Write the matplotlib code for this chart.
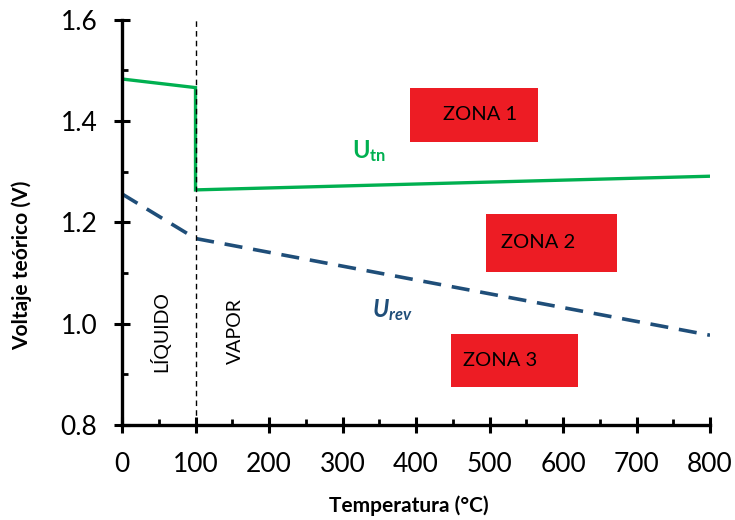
import matplotlib.pyplot as plt
from matplotlib.ticker import MultipleLocator, FormatStrFormatter
from matplotlib.patches import Rectangle

plt.rcParams['font.family'] = ['Lato', 'DejaVu Sans']
plt.rcParams['mathtext.fontset'] = 'custom'
plt.rcParams['mathtext.rm'] = 'Lato'
plt.rcParams['mathtext.it'] = 'Lato:italic:bold'
plt.rcParams['mathtext.bf'] = 'Lato:bold'

# thermoneutral voltage (with the liquid/vapour jump at 100 °C)
t_utn = [0, 100, 100, 800]
u_tn = [1.483, 1.466, 1.264, 1.291]

# reversible voltage
t_urev = [0, 100, 800]
u_rev = [1.256, 1.168, 0.977]

x_ticks = [0, 100, 200, 300, 400, 500, 600, 700, 800]
y_ticks = [0.8, 1.0, 1.2, 1.4, 1.6]

GREEN = '#00B050'
BLUE = '#1F4E79'
RED = '#ED1C24'

fig = plt.figure(figsize=(7.35, 5.2), dpi=100)
ax = fig.add_axes([0.166, 0.183, 0.800, 0.779])

ax.plot(t_utn, u_tn, color=GREEN, lw=2.4, solid_joinstyle='miter')
ax.plot(t_urev, u_rev, color=BLUE, lw=2.6, dashes=(5, 3))
ax.axvline(100, color='black', lw=1.0, dashes=(4, 3))

# zone boxes: label, x0, y0, width, height, text position within box
zones = [('ZONA 1', 392, 1.359, 174, 0.107, 0.55),
         ('ZONA 2', 495, 1.102, 178, 0.115, 0.40),
         ('ZONA 3', 448, 0.875, 172, 0.104, 0.39)]
for label, x0, y0, w, h, fx in zones:
    ax.add_patch(Rectangle((x0, y0), w, h, facecolor=RED, edgecolor='none', zorder=3))
    ax.text(x0 + w * fx, y0 + h / 2, label, ha='center', va='center',
            fontsize=14.5, color='black', zorder=4)

ax.text(313, 1.34, r'$\mathbf{U_{tn}}$', color=GREEN, fontsize=17, ha='left', va='center')
ax.text(340, 1.027, r'$U_{rev}$', color=BLUE, fontsize=17, ha='left', va='center')

ax.text(52, 0.985, 'LÍQUIDO', rotation=90, ha='center', va='center', fontsize=14)
ax.text(154, 0.985, 'VAPOR', rotation=90, ha='center', va='center', fontsize=14)

ax.set_xlim(0, 800)
ax.set_ylim(0.8, 1.6)
ax.set_xticks(x_ticks)
ax.set_yticks(y_ticks)
ax.yaxis.set_major_formatter(FormatStrFormatter('%.1f'))
ax.xaxis.set_minor_locator(MultipleLocator(50))
ax.yaxis.set_minor_locator(MultipleLocator(0.1))

for side in ['top', 'right']:
    ax.spines[side].set_visible(False)
for side in ['left', 'bottom']:
    ax.spines[side].set_linewidth(2.4)

ax.tick_params(which='major', direction='inout', length=11.5, width=2.2,
               labelsize=19)
ax.tick_params(axis='x', which='major', pad=14)
ax.tick_params(axis='y', which='major', pad=12)
ax.tick_params(which='minor', direction='in', length=4, width=2.0)

ax.set_xlabel('Temperatura (°C)', fontsize=15, fontweight='bold')
ax.set_ylabel('Voltaje teórico (V)', fontsize=15, fontweight='bold')
ax.xaxis.set_label_coords(0.488, -0.175)
ax.yaxis.set_label_coords(-0.153, 0.393)

fig.savefig('out.png', dpi=100)
